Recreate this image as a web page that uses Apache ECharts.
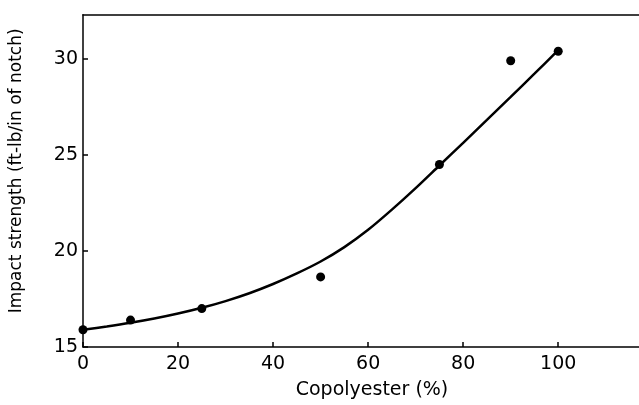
<!DOCTYPE html>
<html>
<head>
<meta charset="utf-8">
<script src="https://cdn.jsdelivr.net/npm/echarts@6/dist/echarts.min.js"></script>
<style>
  html, body { margin: 0; padding: 0; background: #fff; }
  #chart { width: 639px; height: 405px; }
</style>
</head>
<body>
<div id="chart"></div>
<script>
// Measured impact strength of blends vs copolyester content
const copolyesterPct = [0, 10, 25, 50, 75, 90, 100];
const impactStrength = [15.9, 16.4, 17.0, 18.65, 24.5, 29.9, 30.4];

// Trend curve drawn through the measurements
const curveX = [0, 5, 10, 15, 20, 25, 30, 35, 40, 45, 50, 55, 60, 65, 70, 75, 80, 85, 90, 95, 100];
const curveY = [15.9, 16.07, 16.26, 16.48, 16.74, 17.04, 17.39, 17.8, 18.28, 18.83, 19.45, 20.2, 21.1, 22.15, 23.27, 24.45, 25.63, 26.82, 28.02, 29.23, 30.45];

// Tick labels
const xTicks = [0, 20, 40, 60, 80, 100];
const yTicks = [15, 20, 25, 30];

const FONT = 'DejaVu Sans';
const INK = '#000';

const chart = echarts.init(document.getElementById('chart'), null, { renderer: 'canvas' });

chart.setOption({
  animation: false,
  backgroundColor: '#fff',
  grid: { left: 81.5, right: 0, top: 14.7, bottom: 55 },
  xAxis: [
    {
      type: 'value',
      min: 0,
      max: 117,
      position: 'bottom',
      splitLine: { show: false },
      axisLine: { show: true, onZero: false, lineStyle: { color: INK, width: 1.5 } },
      axisTick: { show: true, inside: true, length: 5, customValues: xTicks, lineStyle: { color: INK, width: 1.5 } },
      axisLabel: { customValues: xTicks, margin: 8, color: INK, fontFamily: FONT, fontSize: 19 },
      name: 'Copolyester (%)',
      nameLocation: 'middle',
      nameGap: 34,
      nameTextStyle: { color: INK, fontFamily: FONT, fontSize: 19, padding: [0, 0, 0, 22] }
    },
    {
      type: 'value',
      min: 0,
      max: 117,
      position: 'top',
      splitLine: { show: false },
      axisLine: { show: true, onZero: false, lineStyle: { color: INK, width: 1.5 } },
      axisTick: { show: false },
      axisLabel: { show: false }
    }
  ],
  yAxis: {
    type: 'value',
    min: 15,
    max: 32.3,
    splitLine: { show: false },
    axisLine: { show: true, onZero: false, lineStyle: { color: INK, width: 1.5 } },
    axisTick: { show: true, inside: true, length: 5, customValues: yTicks, lineStyle: { color: INK, width: 1.5 } },
    axisLabel: { customValues: yTicks, margin: 5, color: INK, fontFamily: FONT, fontSize: 19 },
    name: 'Impact strength (ft-lb/in of notch)',
    nameLocation: 'middle',
    nameGap: 58,
    nameTextStyle: { color: INK, fontFamily: FONT, fontSize: 17, padding: [0, 0, 0, 20] }
  },
  series: [
    {
      type: 'line',
      data: curveX.map((x, i) => [x, curveY[i]]),
      smooth: 0.3,
      showSymbol: false,
      lineStyle: { color: INK, width: 2.5 },
      silent: true,
      z: 2
    },
    {
      type: 'scatter',
      data: copolyesterPct.map((x, i) => [x, impactStrength[i]]),
      symbol: 'circle',
      symbolSize: 9,
      itemStyle: { color: INK, opacity: 1 },
      z: 3
    }
  ]
});
</script>
</body>
</html>
